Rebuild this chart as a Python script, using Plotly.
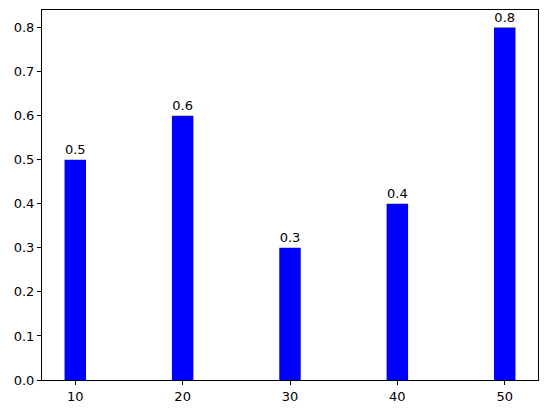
import plotly.graph_objects as go

categories = [10, 20, 30, 40, 50]
values = [0.5, 0.6, 0.3, 0.4, 0.8]
labels = ["0.5", "0.6", "0.3", "0.4", "0.8"]

fig = go.Figure(go.Bar(
    x=categories, y=values, width=2,
    marker=dict(color="#0000ff", line=dict(width=0)),
    text=labels, textposition="outside",
    textfont=dict(family="DejaVu Sans", size=13, color="black"),
    cliponaxis=False,
))

axis_common = dict(showline=True, linecolor="black", linewidth=1, mirror=True,
                   ticks="outside", ticklen=4, tickcolor="black", showgrid=False,
                   zeroline=False, tickfont=dict(family="DejaVu Sans", size=13, color="black"))

fig.update_layout(
    width=547, height=413,
    margin=dict(l=42, r=9, t=10, b=33),
    plot_bgcolor="white", paper_bgcolor="white",
    showlegend=False,
    xaxis=dict(range=[6.9, 53.1], tickvals=categories, **axis_common),
    yaxis=dict(range=[0, 0.84], dtick=0.1, tickformat=".1f", **axis_common),
)

fig.write_html("out.html", config={"displayModeBar": False},
               post_script="document.body.style.margin='0';document.body.style.overflow='hidden';")
